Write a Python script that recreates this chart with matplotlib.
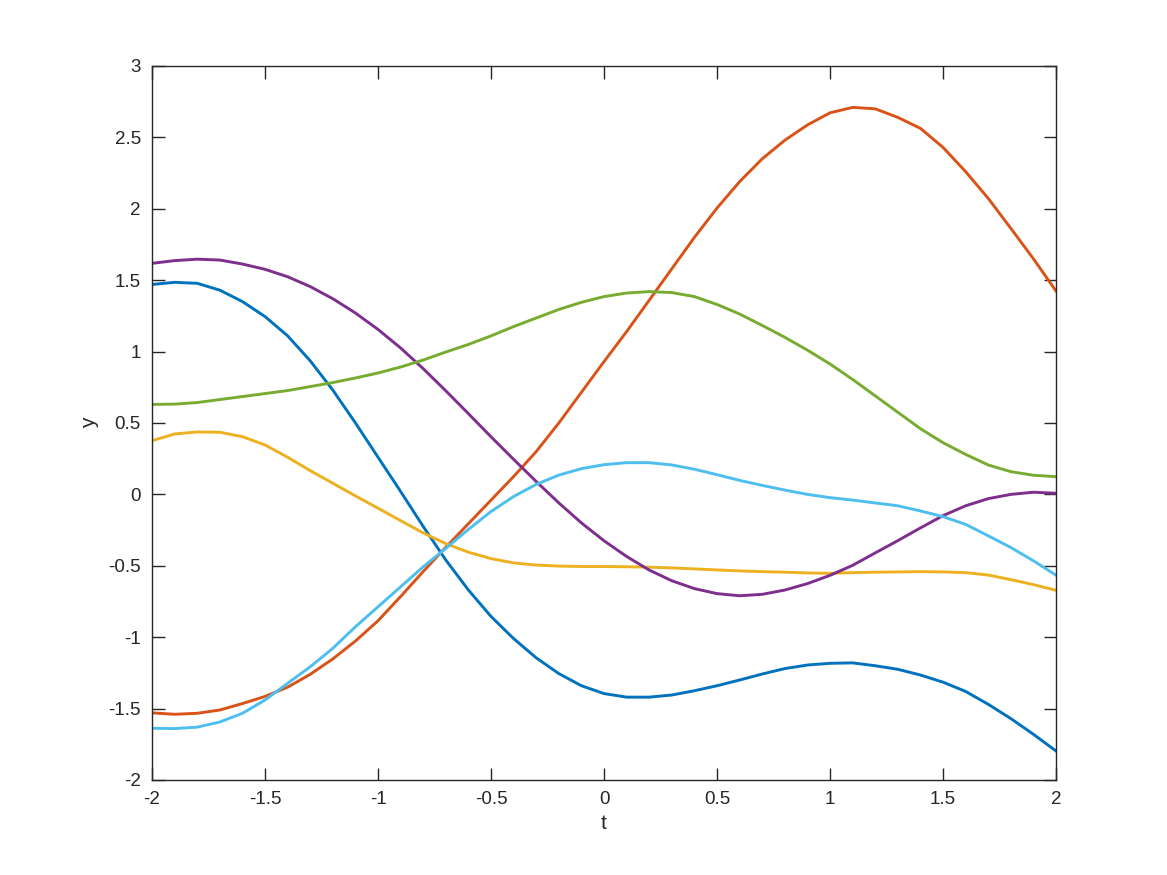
import numpy as np
import matplotlib.pyplot as plt

plt.rcParams['font.family'] = ['Liberation Sans', 'DejaVu Sans']
plt.rcParams['axes.unicode_minus'] = False

# sample points, t step 0.1
t = np.round(np.arange(-2.0, 2.0001, 0.1), 1)

y_blue = [1.47, 1.485, 1.478, 1.43, 1.35, 1.245, 1.11, 0.935, 0.73, 0.50, 0.26,
          0.02, -0.225, -0.46, -0.67, -0.855, -1.01, -1.145, -1.255, -1.34, -1.395,
          -1.42, -1.42, -1.405, -1.375, -1.34, -1.30, -1.258, -1.22, -1.195, -1.183,
          -1.18, -1.20, -1.225, -1.265, -1.315, -1.38, -1.47, -1.57, -1.68, -1.797]
y_orange = [-1.53, -1.54, -1.533, -1.51, -1.465, -1.415, -1.35, -1.26, -1.152, -1.027, -0.885,
            -0.715, -0.54, -0.37, -0.205, -0.04, 0.125, 0.30, 0.50, 0.715, 0.93,
            1.14, 1.36, 1.58, 1.80, 2.005, 2.19, 2.35, 2.48, 2.587, 2.672,
            2.71, 2.70, 2.64, 2.563, 2.43, 2.26, 2.073, 1.863, 1.65, 1.424]
y_yellow = [0.376, 0.423, 0.437, 0.435, 0.404, 0.346, 0.26, 0.166, 0.078, -0.011, -0.097,
            -0.184, -0.27, -0.345, -0.405, -0.45, -0.48, -0.495, -0.502, -0.505, -0.505,
            -0.507, -0.51, -0.515, -0.522, -0.529, -0.536, -0.541, -0.545, -0.55, -0.553,
            -0.548, -0.545, -0.543, -0.541, -0.543, -0.548, -0.565, -0.597, -0.632, -0.672]
y_purple = [1.618, 1.637, 1.647, 1.641, 1.613, 1.576, 1.524, 1.455, 1.37, 1.27, 1.155,
            1.025, 0.88, 0.725, 0.565, 0.403, 0.245, 0.09, -0.06, -0.20, -0.325,
            -0.435, -0.53, -0.605, -0.66, -0.695, -0.71, -0.70, -0.67, -0.625, -0.567,
            -0.497, -0.41, -0.324, -0.235, -0.149, -0.08, -0.03, 0.0, 0.015, 0.008]
y_green = [0.63, 0.632, 0.643, 0.664, 0.685, 0.706, 0.727, 0.755, 0.783, 0.815, 0.85,
           0.892, 0.941, 0.997, 1.05, 1.11, 1.175, 1.235, 1.295, 1.345, 1.385,
           1.41, 1.42, 1.413, 1.385, 1.33, 1.263, 1.183, 1.10, 1.01, 0.913,
           0.805, 0.69, 0.575, 0.46, 0.362, 0.28, 0.206, 0.159, 0.134, 0.124]
y_cyan = [-1.638, -1.64, -1.63, -1.594, -1.533, -1.44, -1.323, -1.207, -1.078, -0.927, -0.787,
          -0.647, -0.507, -0.378, -0.245, -0.12, -0.015, 0.07, 0.135, 0.18, 0.208,
          0.222, 0.222, 0.206, 0.176, 0.138, 0.098, 0.063, 0.03, 0.0, -0.023,
          -0.04, -0.06, -0.08, -0.116, -0.156, -0.21, -0.29, -0.372, -0.465, -0.566]

series = [y_blue, y_orange, y_yellow, y_purple, y_green, y_cyan]
colors = ['#0072BD', '#D95319', '#EDB120', '#7E2F8E', '#77AC30', '#4DBEEE']

x_ticks = [-2, -1.5, -1, -0.5, 0, 0.5, 1, 1.5, 2]
y_ticks = [-2, -1.5, -1, -0.5, 0, 0.5, 1, 1.5, 2, 2.5, 3]

fig = plt.figure(figsize=(11.67, 8.75), dpi=100)
ax = fig.add_axes([0.1303, 0.1086, 0.7746, 0.8160])

for ys, c in zip(series, colors):
    ax.plot(t, ys, color=c, linewidth=2.1, solid_joinstyle='round')

ax.set_xlim(-2, 2)
ax.set_ylim(-2, 3)
ax.set_xticks(x_ticks)
ax.set_xticklabels(['%g' % v for v in x_ticks])
ax.set_yticks(y_ticks)
ax.set_yticklabels(['%g' % v for v in y_ticks])

dark = '#262626'
for s in ax.spines.values():
    s.set_color(dark)
    s.set_linewidth(1.0)
ax.tick_params(direction='in', length=9, width=1.0, colors=dark,
               top=True, right=True, labelsize=13.5, pad=8)

ax.set_xlabel('t', fontsize=15, color=dark, labelpad=4)
ax.set_ylabel('y', fontsize=15, color=dark, labelpad=7)

fig.savefig('out.png', dpi=100)
